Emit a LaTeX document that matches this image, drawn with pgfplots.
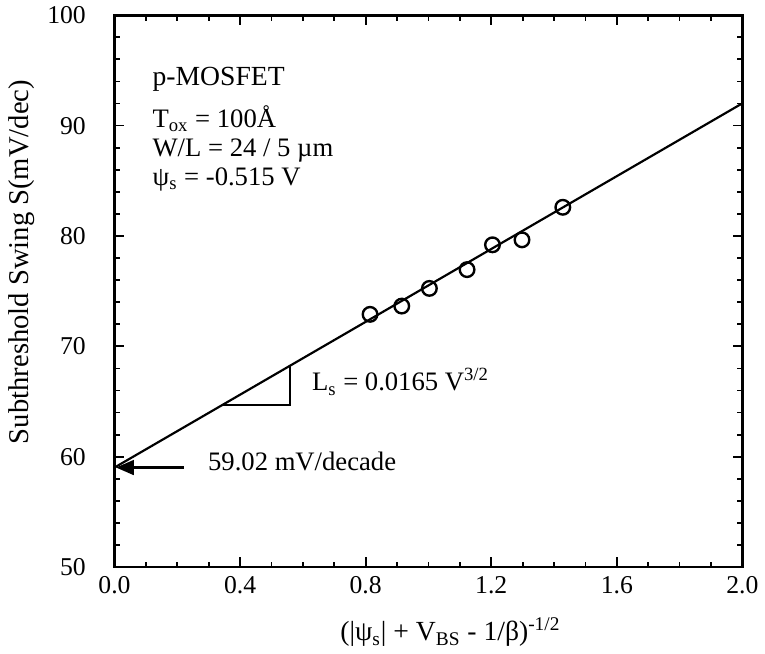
\documentclass[border=0pt]{standalone}
\usepackage{fontspec}
\setmainfont{Liberation Serif}
\usepackage{pgfplots}
\pgfplotsset{compat=1.18}
\usetikzlibrary{arrows.meta}
\begin{document}
\begin{tikzpicture}
\begin{axis}[
  scale only axis, width=318pt, height=279.5pt,
  xmin=0, xmax=2, ymin=50, ymax=100,
  xtick={0,0.4,0.8,1.2,1.6,2.0},
  xticklabels={0.0,0.4,0.8,1.2,1.6,2.0},
  ytick={50,60,70,80,90,100},
  yticklabels={50,60,70,80,90,100},
  minor x tick num=3, minor y tick num=4,
  tick align=inside,
  major tick length=5pt, minor tick length=2.8pt,
  tick style={black, line width=0.9pt},
  axis line style={line width=1.4pt},
  tick label style={font=\fontsize{13}{15}\selectfont},
  yticklabel style={xshift=-11pt},
  xticklabel style={yshift=-1pt},
  clip=false,
  xlabel={(|ψ\textsubscript{s}| + V\textsubscript{BS} - 1/β)\textsuperscript{-1/2}},
  ylabel={Subthreshold Swing S(mV/dec)},
  x label style={at={(axis description cs:0.535,-0.118)}, anchor=center, font=\fontsize{14}{16}\selectfont},
  y label style={at={(axis description cs:-0.148,0.553)}, anchor=center, rotate=0, font=\fontsize{14.5}{16}\selectfont},
]
% fitted line
\addplot[black, line width=1.1pt, no marks] coordinates {(0,59.02) (2.0,92.02)};
% slope triangle
\addplot[black, line width=1.1pt, no marks] coordinates {(0.344,64.7) (0.559,64.7) (0.559,68.24)};
% intercept arrow
\addplot[black, line width=1.1pt, no marks, -{Triangle[length=9pt,width=7.5pt]}] coordinates {(0.22,59.02) (0.005,59.02)};
% measured points
\addplot[black, only marks, mark=o, mark size=3.7pt, mark options={line width=1.2pt, fill=white}] coordinates {
(0.814,72.9) (0.915,73.65) (1.003,75.25) (1.123,76.95) (1.204,79.2) (1.298,79.65) (1.428,82.6)};
% annotations
\node[anchor=west, inner sep=0pt, font=\fontsize{14}{16}\selectfont] at (axis cs:0.12,94.2) {p-MOSFET};
\node[anchor=west, inner sep=0pt, font=\fontsize{13.5}{16}\selectfont] at (axis cs:0.12,90.6) {T\textsubscript{ox} = 100Å};
\node[anchor=west, inner sep=0pt, font=\fontsize{13.5}{16}\selectfont] at (axis cs:0.12,87.7) {W/L = 24 / 5 µm};
\node[anchor=west, inner sep=0pt, font=\fontsize{13.5}{16}\selectfont] at (axis cs:0.12,85.1) {ψ\textsubscript{s} = -0.515 V};
\node[anchor=west, inner sep=0pt, font=\fontsize{13.5}{16}\selectfont] at (axis cs:0.628,66.8) {L\textsubscript{s} = 0.0165 V\textsuperscript{3/2}};
\node[anchor=west, inner sep=0pt, font=\fontsize{13.5}{16}\selectfont] at (axis cs:0.297,59.6) {59.02 mV/decade};
\end{axis}
\path ([shift={(-58pt,-38pt)}]current axis.south west) rectangle ([shift={(6.5pt,7.5pt)}]current axis.north east);
\end{tikzpicture}
\end{document}
